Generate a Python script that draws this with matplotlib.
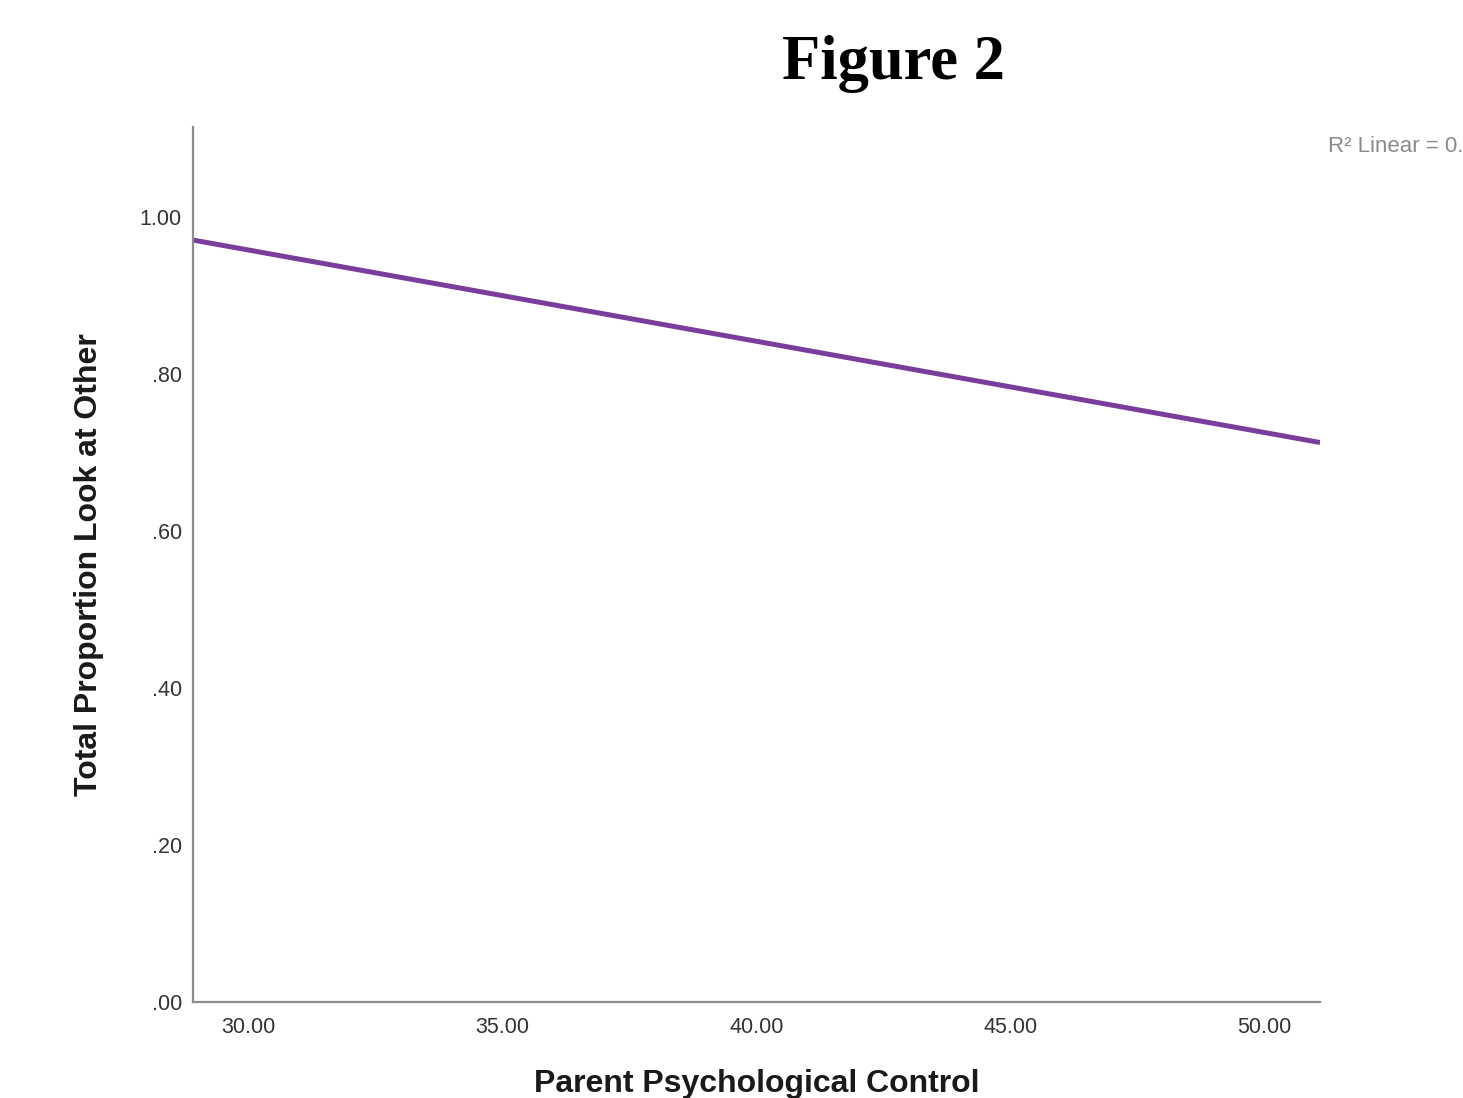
import matplotlib
matplotlib.use("Agg")
import matplotlib.pyplot as plt

# Fitted regression line (endpoints across the plotted range)
fit_x = [28.9, 51.1]
fit_y = [0.971, 0.713]

x_ticks = [30, 35, 40, 45, 50]
x_tick_labels = ["30.00", "35.00", "40.00", "45.00", "50.00"]
y_ticks = [0.0, 0.2, 0.4, 0.6, 0.8, 1.0]
y_tick_labels = [".00", ".20", ".40", ".60", ".80", "1.00"]

fig = plt.figure(figsize=(14.63, 10.98), dpi=100)
ax = fig.add_axes([0.1319, 0.0874, 0.9023 - 0.1319, 0.8843 - 0.0874])

ax.plot(fit_x, fit_y, color="#7a3d9b", linewidth=3.6, solid_capstyle="butt")

ax.set_xlim(28.9, 51.1)
ax.set_ylim(0, 1.115)
ax.set_xticks(x_ticks)
ax.set_xticklabels(x_tick_labels)
ax.set_yticks(y_ticks)
ax.set_yticklabels(y_tick_labels)
ax.tick_params(length=0, labelsize=15.5, labelcolor="#333333")
ax.tick_params(axis="x", pad=11)
ax.tick_params(axis="y", pad=8)
for lbl in ax.get_xticklabels() + ax.get_yticklabels():
    lbl.set_family("Liberation Sans")

for side in ("top", "right"):
    ax.spines[side].set_visible(False)
for side in ("left", "bottom"):
    ax.spines[side].set_color("#8c8c8c")
    ax.spines[side].set_linewidth(1.6)

ax.set_xlabel("Parent Psychological Control", fontsize=23, fontweight="bold",
              family="Liberation Sans", color="#1a1a1a", labelpad=22)
ax.set_ylabel("Total Proportion Look at Other", fontsize=23, fontweight="bold",
              family="Liberation Sans", color="#1a1a1a", labelpad=26)

fig.text(0.611, 1 - 64 / 1098, "Figure 2", fontsize=45, fontweight="bold",
         family="Liberation Serif", ha="center", va="center", color="black")

fig.text(1328 / 1463, 1 - 146 / 1098, "R\u00b2 Linear = 0.04", fontsize=16,
         family="Liberation Sans", color="#8a8a8a", ha="left", va="center")

fig.savefig("out.png", dpi=100, facecolor="white")
